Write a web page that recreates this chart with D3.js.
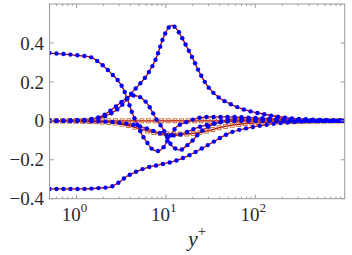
<!DOCTYPE html>
<html>
<head>
<meta charset="utf-8">
<script src="https://cdn.jsdelivr.net/npm/d3@7"></script>
<style>
body { margin: 0; background: #fff; }
svg { display: block; }
svg text { font-family: 'Liberation Serif', 'DejaVu Serif', serif; fill: #2a2a2a; }
</style>
</head>
<body>
<div class="graph"></div>
<script>
// budget terms vs y+ , pairs of [y+, value]
let production = [[0.5, 0], [1.09, 0.003], [1.83, 0.015], [2.37, 0.035], [3.06, 0.07], [3.67, 0.11], [4.28, 0.15], [5.12, 0.19], [6.14, 0.235], [7.93, 0.33], [9.25, 0.42], [10.8, 0.48], [11.8, 0.49], [13, 0.475], [16.7, 0.39], [20, 0.32], [24.6, 0.235], [30.2, 0.17], [39.1, 0.12], [50.6, 0.09], [72.5, 0.06], [121, 0.035], [219, 0.016], [512, 0.005], [1000, 0]]
let viscous = [[0.5, 0.348], [1.09, 0.335], [1.42, 0.328], [1.83, 0.297], [2.37, 0.25], [3.06, 0.194], [3.31, 0.168], [3.66, 0.12], [4.17, 0.045], [4.74, -0.015], [5.39, -0.07], [6.14, -0.11], [7.16, -0.148], [8.13, -0.155], [9.25, -0.14], [10.5, -0.1], [11.7, -0.065], [12.9, -0.035], [16.7, -0.008], [22, 0.012], [30, 0.02], [50, 0.02], [100, 0.015], [243, 0.006], [1000, 0]]
let transport = [[0.5, 0], [1.09, 0.003], [1.83, 0.02], [2.37, 0.05], [3.06, 0.09], [3.66, 0.117], [4.28, 0.13], [4.87, 0.127], [5.5, 0.112], [6.14, 0.091], [6.98, 0.05], [7.93, 0.004], [9.25, -0.04], [10.5, -0.09], [11.7, -0.13], [13.2, -0.145], [14.5, -0.15], [16.3, -0.135], [20, -0.1], [24, -0.06], [30, -0.03], [40, -0.005], [60, 0.01], [100, 0.008], [243, 0.003], [1000, 0]]
let dissipation = [[0.5, -0.35], [1.09, -0.35], [1.83, -0.345], [2.37, -0.34], [2.91, -0.32], [3.67, -0.285], [4.74, -0.26], [6.14, -0.24], [8.57, -0.225], [12.9, -0.205], [16.7, -0.185], [24.6, -0.145], [33.5, -0.11], [43.3, -0.08], [51.9, -0.062], [86.8, -0.035], [188, -0.012], [439, -0.002], [1000, 0]]
let pstrainModel = [[0.5, 0], [1.83, -0.003], [3.06, -0.01], [4.28, -0.02], [6.14, -0.04], [8.13, -0.06], [10.5, -0.075], [12.9, -0.075], [16.7, -0.06], [21, -0.04], [29.5, -0.02], [40, -0.008], [70, 0], [1000, 0]]
let pstrain = [[0.5, 0], [1.09, -0.002], [1.83, -0.006], [3.06, -0.015], [4.28, -0.03], [5.5, -0.045], [7, -0.058], [9, -0.065], [12, -0.068], [16, -0.068], [22, -0.062], [30, -0.05], [40, -0.035], [60, -0.02], [100, -0.01], [250, -0.004], [1000, 0]]
let pdiffusion = [[0.5, 0], [1000, 0]]

let xTicks = [1, 10, 100]
let xMinor = [0.6, 0.7, 0.8, 0.9, 2, 3, 4, 5, 6, 7, 8, 9, 20, 30, 40, 50, 60, 70, 80, 90, 200, 300, 400, 500, 600, 700, 800, 900]
let yTicks = [-0.4, -0.2, 0, 0.2, 0.4]

let width = 352,
    height = 255
let mLeft = 49.5, mRight = 344.7, mTop = 4, mBottom = 198.7

let x = d3.scaleLog().domain([0.5, 1000]).range([mLeft, mRight])
let y = d3.scaleLinear().domain([-0.4, 0.6]).range([mBottom, mTop])

let svg = d3.select('.graph').append('svg')
    .attr('width', width)
    .attr('height', height)

svg.append('defs').append('clipPath').attr('id', 'clip')
    .append('rect').attr('x', mLeft).attr('y', mTop).attr('width', mRight - mLeft).attr('height', mBottom - mTop)

let line = d3.line()
    .curve(d3.curveMonotoneX)
    .x(d => x(d[0]))
    .y(d => y(d[1]))

let series = [
    { data: pdiffusion, marker: 'square' },
    { data: pstrain, marker: 'square' },
    { data: dissipation, marker: 'dot' },
    { data: pstrainModel, marker: 'dot' },
    { data: transport, marker: 'dot' },
    { data: viscous, marker: 'dot' },
    { data: production, marker: 'dot' }
]

let plot = svg.append('g').attr('clip-path', 'url(#clip)')

// red lines first, then markers spaced along each curve
let paths = series.map(s => plot.append('path')
    .attr('d', line(s.data))
    .attr('fill', 'none')
    .attr('stroke', '#b00000')
    .attr('stroke-width', 1.3))

series.forEach((s, i) => {
    let node = paths[i].node()
    let len = node.getTotalLength()
    let step = s.marker === 'dot' ? 7 : 6.6
    let pts = []
    for (let l = 0; l <= len; l += step) pts.push(node.getPointAtLength(l))
    if (s.marker === 'dot') {
        plot.append('g').selectAll('circle').data(pts).join('circle')
            .attr('cx', p => p.x).attr('cy', p => p.y).attr('r', 2.2)
            .attr('fill', '#0000ff')
    } else {
        plot.append('g').selectAll('rect').data(pts).join('rect')
            .attr('x', p => p.x - 2).attr('y', p => p.y - 2)
            .attr('width', 4).attr('height', 4)
            .attr('fill', 'none').attr('stroke', '#c8642a').attr('stroke-width', 0.9)
    }
})

// axes box and inward ticks
let axisColor = '#9a9a9a'
let ax = svg.append('g').attr('stroke', axisColor).attr('stroke-width', 1)
ax.append('rect').attr('x', mLeft).attr('y', mTop).attr('width', mRight - mLeft).attr('height', mBottom - mTop).attr('fill', 'none')

xTicks.concat(xMinor).forEach(t => {
    let len = xTicks.includes(t) ? 4 : 2
    ax.append('line').attr('x1', x(t)).attr('x2', x(t)).attr('y1', mBottom).attr('y2', mBottom - len)
    ax.append('line').attr('x1', x(t)).attr('x2', x(t)).attr('y1', mTop).attr('y2', mTop + len)
})
yTicks.forEach(t => {
    ax.append('line').attr('x1', mLeft).attr('x2', mLeft + 4).attr('y1', y(t)).attr('y2', y(t))
    ax.append('line').attr('x1', mRight).attr('x2', mRight - 4).attr('y1', y(t)).attr('y2', y(t))
})

svg.append('g').selectAll('text').data(yTicks).join('text')
    .attr('x', mLeft - 5.5)
    .attr('y', d => y(d))
    .attr('dy', '0.35em')
    .attr('text-anchor', 'end')
    .style('font-size', '19px')
    .text(d => d === 0 ? '0' : d3.format('.1f')(d))

let xl = svg.append('g').selectAll('text').data(xTicks).join('text')
    .attr('x', d => x(d) - 2)
    .attr('y', 221)
    .attr('text-anchor', 'middle')
    .style('font-size', '19px')
xl.append('tspan').text('10')
xl.append('tspan').attr('dy', -9).style('font-size', '13px').text(d => Math.round(Math.log10(d)))

let lab = svg.append('text')
    .attr('x', 197)
    .attr('y', 246)
    .attr('text-anchor', 'middle')
    .style('font-size', '22px')
lab.append('tspan').style('font-style', 'italic').text('y')
lab.append('tspan').attr('dy', -10).style('font-size', '15px').text('+')
</script>
</body>
</html>
